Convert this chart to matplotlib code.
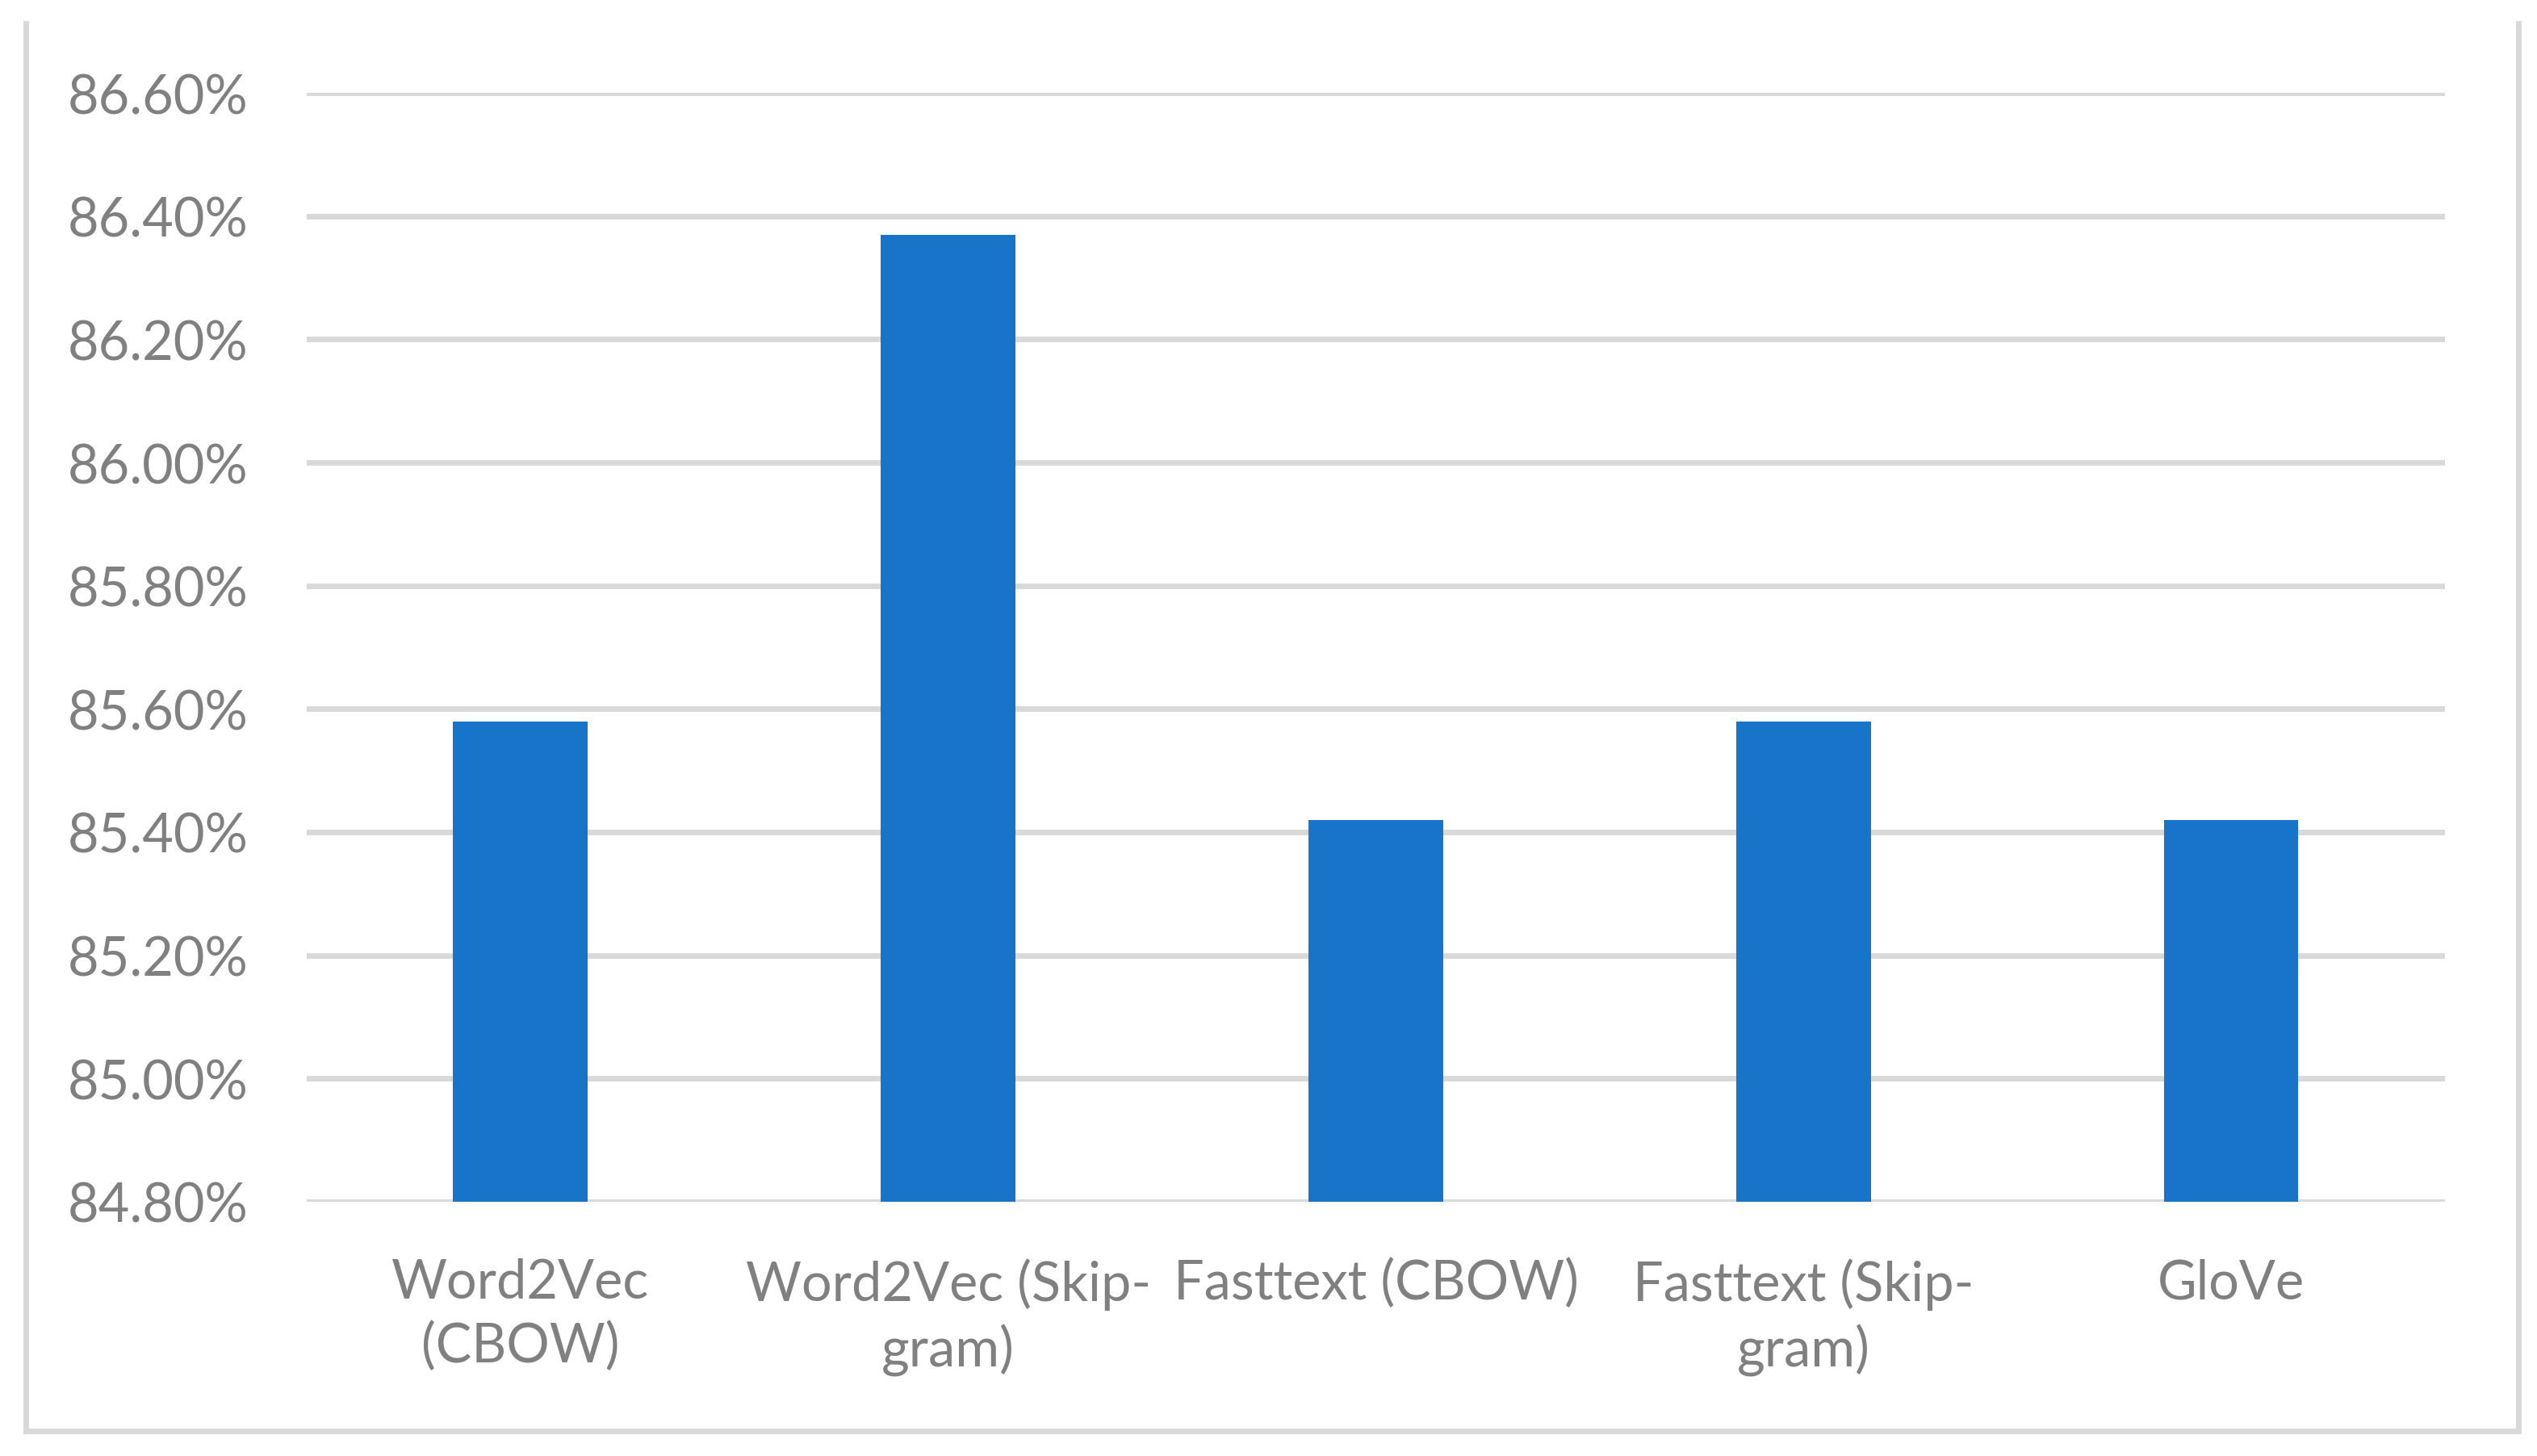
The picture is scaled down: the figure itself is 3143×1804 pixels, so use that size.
import matplotlib
matplotlib.use('Agg')
from matplotlib import pyplot as plt
from matplotlib.lines import Line2D
from matplotlib.ticker import FuncFormatter

# datos
modelos = ['Word2Vec\n(CBOW)', 'Word2Vec (Skip-\ngram)', 'Fasttext (CBOW)',
           'Fasttext (Skip-\ngram)', 'GloVe']
precision = [85.58, 86.37, 85.42, 85.58, 85.42]
ticks_y = [84.8, 85.0, 85.2, 85.4, 85.6, 85.8, 86.0, 86.2, 86.4, 86.6]

gris = '#D9D9D9'
texto = '#808080'
azul = '#1874C9'

plt.rcParams['font.family'] = ['Lato', 'DejaVu Sans']

fig = plt.figure(figsize=(15.715, 9.0245), dpi=200)
ax = fig.add_axes([0.1209, 0.1745, 0.8428, 0.7612])

x = range(len(modelos))
ax.bar(x, precision, width=0.315, color=azul, zorder=3)

ax.set_xlim(-0.5, len(modelos) - 0.5)
ax.set_ylim(ticks_y[0], ticks_y[-1])
ax.set_yticks(ticks_y)
ax.yaxis.set_major_formatter(FuncFormatter(lambda v, p: '%.2f%%' % v))
ax.set_xticks(list(x))
ax.set_xticklabels(modelos, linespacing=1.32)

ax.grid(axis='y', color=gris, linewidth=2.5, zorder=0)
ax.set_axisbelow(True)
for s in ax.spines.values():
    s.set_visible(False)
ax.tick_params(axis='both', length=0, labelsize=24, labelcolor=texto)
ax.tick_params(axis='y', pad=26)
ax.tick_params(axis='x', pad=25)

# marco del area del grafico (sin borde superior)
xl, xr = 32 / 3143, 3120 / 3143
yb, yt = 1 - 1774 / 1805, 1 - 30 / 1805
for xs, ys in [([xl, xl], [yb, yt]), ([xr, xr], [yb, yt]), ([xl, xr], [yb, yb])]:
    fig.add_artist(Line2D(xs, ys, color=gris, linewidth=2.5, transform=fig.transFigure))

fig.savefig('out.png', dpi=200, facecolor='white')
